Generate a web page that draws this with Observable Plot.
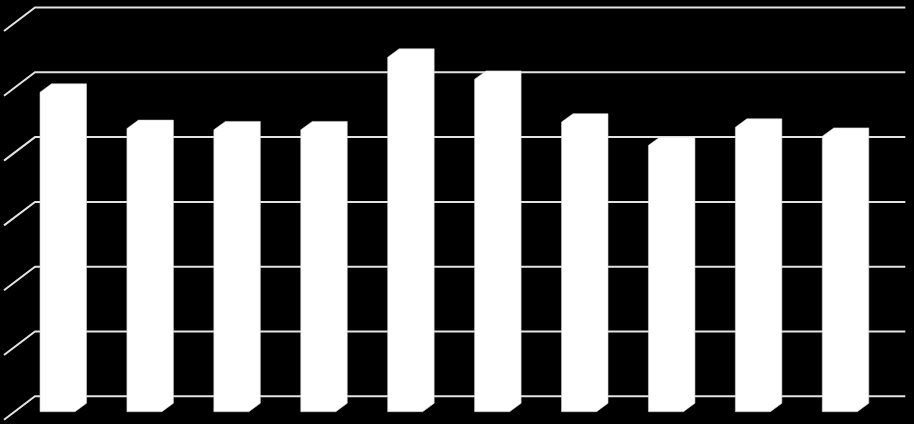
<!DOCTYPE html>
<html><head><meta charset="utf-8">
<script src="https://cdn.jsdelivr.net/npm/d3@7"></script>
<script src="https://cdn.jsdelivr.net/npm/@observablehq/plot@0.6"></script>
<style>html,body{margin:0;padding:0;background:#000;overflow:hidden}</style>
</head><body><div id="chart"></div>
<script>
// Data (no labels on the original chart; values in grid units)
const categories = ["1","2","3","4","5","6","7","8","9","10"];
const values = [4.93, 4.37, 4.35, 4.35, 5.47, 5.13, 4.47, 4.11, 4.39, 4.25];
const gridTicks = [0, 1, 2, 3, 4, 5, 6];

const data = categories.map((c, i) => ({category: c, value: values[i]}));

// Layout constants (3D look)
const W = 914, H = 424;
const wallLeft = 35, wallRight = 905.3;
const sideDX = -31, sideDY = 23.5;     // side wall diagonal
const backDX = 11.5, backDY = 7.0;     // bar back face offset from wall position
const frontDY = 15.4;                   // bar front face offset from wall position

function gridRender(index, scales, vals) {
  const g = d3.create("svg:g");
  for (const i of index) {
    const y = vals.y[i];
    g.append("path")
      .attr("d", `M${wallLeft + sideDX},${y + sideDY}L${wallLeft},${y}L${wallRight},${y}`)
      .attr("fill", "none")
      .attr("stroke", "#e4e4e4")
      .attr("stroke-width", 2);
  }
  return g.node();
}

function barRender(index, scales) {
  const g = d3.create("svg:g");
  const bw = scales.x.bandwidth ? scales.x.bandwidth() : 35;
  for (const i of index) {
    const d = data[i];
    const x0 = scales.x(d.category);
    const yv = scales.y(d.value);
    const y0 = scales.y(0);
    const xb = x0 + backDX;
    const pts = [
      [x0, y0 + frontDY],
      [x0 + bw, y0 + frontDY],
      [xb + bw, y0 + backDY],
      [xb + bw, yv + backDY],
      [xb, yv + backDY],
      [x0, yv + frontDY]
    ];
    g.append("path")
      .attr("d", "M" + pts.map(p => p.join(",")).join("L") + "Z")
      .attr("fill", "#ffffff")
      .attr("stroke", "#d0d0d0")
      .attr("stroke-width", 0.6);
  }
  return g.node();
}

const chart = Plot.plot({
  width: W,
  height: H,
  margin: 0,
  style: {background: "#000"},
  x: {type: "band", domain: categories, range: [14.04, 883.24], paddingInner: 0.5973, paddingOuter: 0.29865, align: 0.5, round: false, axis: null},
  y: {type: "linear", domain: [0, 6], range: [396.3, 7.5], axis: null},
  marks: [
    Plot.ruleY(gridTicks, {y: d => d, render: gridRender}),
    Plot.barY(data, {x: "category", y: "value", render: barRender})
  ]
});
document.getElementById("chart").appendChild(chart);
</script>
</body></html>
